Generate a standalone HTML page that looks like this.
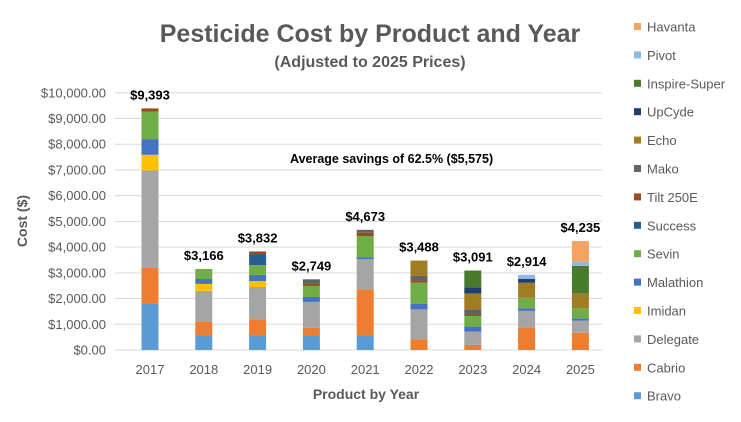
<!DOCTYPE html>
<html><head><meta charset="utf-8"><style>
html,body{margin:0;padding:0;background:#fff;width:741px;height:422px;overflow:hidden}
svg{display:block;font-family:"Liberation Sans",sans-serif}
</style></head><body>
<svg id="chart" width="741" height="422" viewBox="0 0 741 422">
<text x="370" y="42" text-anchor="middle" font-size="25" font-weight="bold" fill="#595959">Pesticide Cost by Product and Year</text>
<text x="370" y="67" text-anchor="middle" font-size="16" font-weight="bold" fill="#595959">(Adjusted to 2025 Prices)</text>
<text transform="translate(27,221) rotate(-90)" text-anchor="middle" font-size="14" font-weight="bold" fill="#595959">Cost ($)</text>
<text x="366" y="399" text-anchor="middle" font-size="14" font-weight="bold" fill="#595959">Product by Year</text>
<text x="290" y="163" font-size="12.5" font-weight="bold" fill="#000">Average savings of 62.5% ($5,575)</text>
<g id="grid"></g><g id="bars"></g><g id="legend"></g>
</svg>
<script>
const years = ["2017","2018","2019","2020","2021","2022","2023","2024","2025"];
const totals = ["$9,393","$3,166","$3,832","$2,749","$4,673","$3,488","$3,091","$2,914","$4,235"];
const yTicks = [0,1000,2000,3000,4000,5000,6000,7000,8000,9000,10000];
const products = ["Bravo","Cabrio","Delegate","Imidan","Malathion","Sevin","Success","Tilt 250E","Mako","Echo","UpCyde","Inspire-Super","Pivot","Havanta"];
const colors = ["#5B9BD5","#ED7D31","#A5A5A5","#FFC000","#4472C4","#70AD47","#255E91","#9E4A1F","#636363","#A07C24","#1F3D6E","#4A7A2C","#8DB9E3","#F4A460"];
const bravo    = [1790,580,580,580,580,0,0,0,0];
const cabrio   = [1400,510,620,280,1780,420,200,870,670];
const delegate = [3790,1210,1250,1010,1170,1160,510,650,470];
const imidan   = [610,270,230,0,0,0,0,0,0];
const malathion= [610,190,240,190,80,210,200,100,90];
const sevin    = [1070,390,380,430,820,830,410,410,390];
const success  = [0,0,430,0,0,0,0,0,0];
const tilt     = [123,0,102,110,130,80,60,0,0];
const mako     = [0,0,0,149,113,180,200,0,0];
const echo     = [0,0,0,0,0,598,620,590,580];
const upcyde   = [0,0,0,0,0,0,240,140,0];
const inspire  = [0,0,0,0,0,0,651,0,1070];
const pivot    = [0,0,0,0,0,0,0,164,160];
const havanta  = [0,0,0,0,0,0,0,0,805];
const series = [bravo,cabrio,delegate,imidan,malathion,sevin,success,tilt,mako,echo,upcyde,inspire,pivot,havanta];

const NS="http://www.w3.org/2000/svg";
const y0=350, pxPer=25.72/1000;
function yScale(v){return y0 - v*pxPer;}
function xScale(i){return 150 + i*53.8;}
function mk(tag,attrs,parent){const e=document.createElementNS(NS,tag);for(const k in attrs)e.setAttribute(k,attrs[k]);parent.appendChild(e);return e;}
const grid=document.getElementById('grid'), bars=document.getElementById('bars'), legend=document.getElementById('legend');
yTicks.forEach(t=>{
  const l=mk('line',{x1:115,x2:602,y1:yScale(t),y2:yScale(t),stroke:'#d9d9d9','stroke-width':1},grid);
  
  
  const tx=mk('text',{x:106,y:yScale(t)+4.5,'text-anchor':'end','font-size':13,fill:'#595959'},grid);
  tx.textContent='$'+t.toLocaleString('en-US',{minimumFractionDigits:2});
  
  
});
years.forEach((yr,i)=>{
  let cum=0;
  series.forEach((s,k)=>{
    const v=s[i]; if(!v) return;
    const r=mk('rect',{x:xScale(i)-8.5,width:17,y:yScale(cum+v),height:v*pxPer,fill:colors[k]},bars);
    
    
    cum+=v;
  });
  const lab=mk('text',{x:xScale(i),y:yScale(cum)-9,'text-anchor':'middle','font-size':13,'font-weight':'bold',fill:'#000'},bars);
  lab.textContent=totals[i];
  
  
  const xl=mk('text',{x:xScale(i),y:374,'text-anchor':'middle','font-size':13,fill:'#595959'},bars);
  xl.textContent=yr;
  
  
});
products.slice().reverse().forEach((p,j)=>{
  const k=products.length-1-j, yy=27+j*28.4;
  const g=mk('g',{},legend);
  
  
  mk('rect',{x:634,y:yy-4,width:7,height:7,fill:colors[k]},g);
  const t=mk('text',{x:647,y:yy+4.5,'font-size':13,fill:'#595959'},g);
  t.textContent=p;
});
</script>
</body></html>
